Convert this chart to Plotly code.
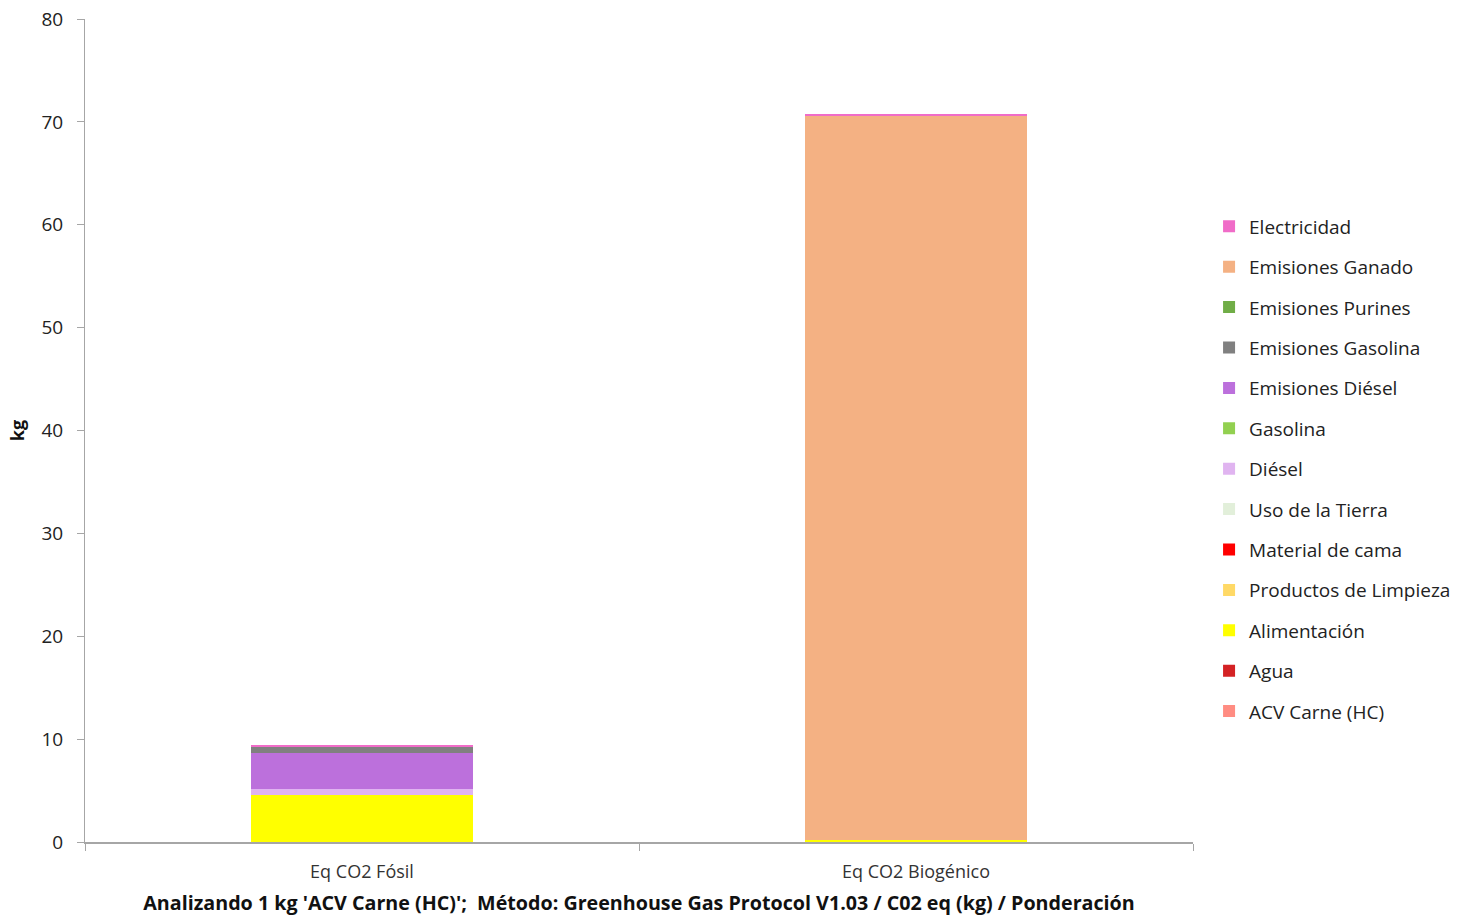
import plotly.graph_objects as go

categories = ["Eq CO2 Fósil", "Eq CO2 Biogénico"]

# stack order bottom -> top
series_names = [
    "ACV Carne (HC)", "Agua", "Alimentación", "Productos de Limpieza",
    "Material de cama", "Uso de la Tierra", "Diésel", "Gasolina",
    "Emisiones Diésel", "Emisiones Gasolina", "Emisiones Purines",
    "Emisiones Ganado", "Electricidad",
]
series_values = {
    "ACV Carne (HC)":        [0.0, 0.0],
    "Agua":                  [0.0, 0.0],
    "Alimentación":          [4.54, 0.15],
    "Productos de Limpieza": [0.0, 0.0],
    "Material de cama":      [0.0, 0.0],
    "Uso de la Tierra":      [0.0, 0.0],
    "Diésel":                [0.6, 0.0],
    "Gasolina":              [0.0, 0.0],
    "Emisiones Diésel":      [3.53, 0.0],
    "Emisiones Gasolina":    [0.58, 0.0],
    "Emisiones Purines":     [0.0, 0.0],
    "Emisiones Ganado":      [0.0, 70.5],
    "Electricidad":          [0.1, 0.1],
}
series_colors = {
    "ACV Carne (HC)": "#ff8c82",
    "Agua": "#d42224",
    "Alimentación": "#ffff00",
    "Productos de Limpieza": "#ffd966",
    "Material de cama": "#ff0000",
    "Uso de la Tierra": "#e2efda",
    "Diésel": "#e0b4f0",
    "Gasolina": "#92d050",
    "Emisiones Diésel": "#bc70dc",
    "Emisiones Gasolina": "#808080",
    "Emisiones Purines": "#70ad47",
    "Emisiones Ganado": "#f4b183",
    "Electricidad": "#f06cc8",
}
y_ticks = [0, 10, 20, 30, 40, 50, 60, 70, 80]

FONT = "Open Sans"

fig = go.Figure()
n = len(series_names)
for i, name in enumerate(series_names):
    fig.add_trace(go.Bar(
        x=categories, y=series_values[name], name=name,
        marker=dict(color=series_colors[name], line=dict(width=0)),
        legendgroup=name, legendrank=100 + (n - i),
    ))

fig.update_layout(
    barmode="stack",
    bargap=0.6,
    width=1467, height=918,
    margin=dict(l=85, r=274, t=19, b=76, autoexpand=False),
    paper_bgcolor="white", plot_bgcolor="white",
    font=dict(family=FONT, size=19, color="#222222"),
    legend=dict(
        x=1.0145, y=0.771, xanchor="left", yanchor="top",
        traceorder="grouped", tracegroupgap=12.7,
        font=dict(family=FONT, size=19, color="#222222"),
        itemwidth=30,
    ),
    xaxis=dict(
        type="category", tickson="boundaries", automargin=False,
        showline=True, linecolor="#a6a6a6", linewidth=1.5,
        ticks="outside", ticklen=7, tickcolor="#a6a6a6",
        ticklabelstandoff=13,
        tickfont=dict(family=FONT, size=18, color="#333333"),
        title=dict(text="<b>Analizando 1 kg 'ACV Carne (HC)';  Método: Greenhouse Gas Protocol V1.03 / C02 eq (kg) / Ponderación</b>",
                   font=dict(family=FONT, size=19.7, color="#111111"), standoff=14),
        showgrid=False,
    ),
    yaxis=dict(
        range=[0, 80], tickvals=y_ticks, automargin=False,
        showline=True, linecolor="#a6a6a6", linewidth=1,
        ticks="outside", ticklen=7, tickcolor="#a6a6a6",
        ticklabelstandoff=10,
        tickfont=dict(family=FONT, size=19, color="#222222"),
        title=dict(text="<b>kg</b>", font=dict(family=FONT, size=18, color="#111111"), standoff=12),
        showgrid=False, zeroline=False,
    ),
)

fig.write_html("out.html")
